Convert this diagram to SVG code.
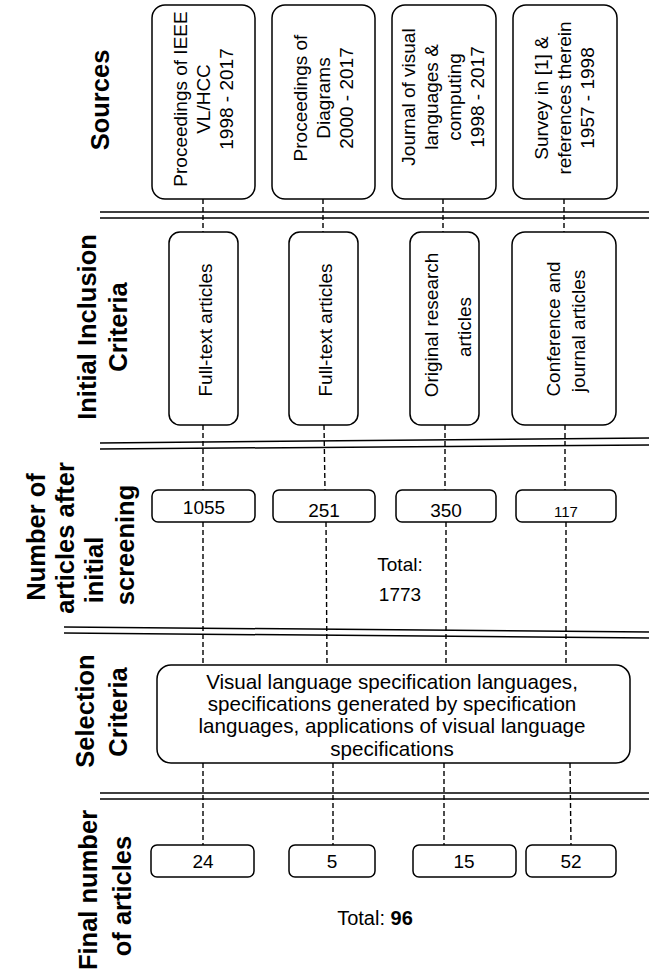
<svg xmlns="http://www.w3.org/2000/svg" width="649" height="975" viewBox="0 0 649 975">
<style>
.box{fill:#fff;stroke:#000;stroke-width:1.5}
.dl{stroke:#000;stroke-width:1.5;fill:none}
.dash{stroke:#000;stroke-width:1.4;stroke-dasharray:5 3;fill:none}
.lbl{font-family:"Liberation Sans",Arial,sans-serif;font-weight:bold;font-size:25.5px;text-anchor:middle;dominant-baseline:central;fill:#000}
.t{font-family:"Liberation Sans",Arial,sans-serif;font-size:19px;text-anchor:middle;dominant-baseline:central;fill:#000}
.s{font-family:"Liberation Sans",Arial,sans-serif;font-size:20.6px;text-anchor:middle;dominant-baseline:central;fill:#000}
</style>
<rect width="649" height="975" fill="#fff"/>
<g id="connectors">
<line class="dash" x1="203" y1="199" x2="203" y2="232"/>
<line class="dash" x1="323" y1="199" x2="323" y2="232"/>
<line class="dash" x1="443" y1="199" x2="443" y2="232"/>
<line class="dash" x1="564" y1="199" x2="564" y2="232"/>
<line class="dash" x1="203" y1="425" x2="203" y2="490"/>
<line class="dash" x1="324" y1="425" x2="325" y2="490"/>
<line class="dash" x1="445" y1="425" x2="445" y2="490"/>
<line class="dash" x1="565" y1="425" x2="565" y2="490"/>
<line class="dash" x1="203" y1="522" x2="203" y2="665"/>
<line class="dash" x1="326" y1="522" x2="327" y2="665"/>
<line class="dash" x1="446" y1="522" x2="446" y2="665"/>
<line class="dash" x1="566" y1="522" x2="566" y2="665"/>
<line class="dash" x1="203" y1="763" x2="203" y2="845"/>
<line class="dash" x1="333" y1="763" x2="333" y2="845"/>
<line class="dash" x1="444" y1="763" x2="444" y2="845"/>
<line class="dash" x1="570" y1="763" x2="571" y2="845"/>
</g>
<g id="separators">
<line class="dl" x1="100" y1="212" x2="649" y2="212"/>
<line class="dl" x1="100" y1="218" x2="649" y2="218"/>
<line class="dl" x1="100" y1="443" x2="649" y2="438"/>
<line class="dl" x1="100" y1="449" x2="649" y2="445"/>
<line class="dl" x1="64" y1="627" x2="649" y2="632"/>
<line class="dl" x1="64" y1="633" x2="649" y2="638"/>
<line class="dl" x1="100" y1="793" x2="649" y2="793"/>
<line class="dl" x1="100" y1="799" x2="649" y2="799"/>
</g>
<g id="row-labels">
<text class="lbl" transform="translate(100,100) rotate(-90)">Sources</text>
<text class="lbl" transform="translate(87,327) rotate(-90)">Initial Inclusion</text>
<text class="lbl" transform="translate(118,327) rotate(-90)">Criteria</text>
<text class="lbl" transform="translate(36,537) rotate(-90)">Number of</text>
<text class="lbl" transform="translate(65,538) rotate(-90)">articles after</text>
<text class="lbl" transform="translate(94,570) rotate(-90)">initial</text>
<text class="lbl" transform="translate(125,545) rotate(-90)">screening</text>
<text class="lbl" transform="translate(85,711) rotate(-90)">Selection</text>
<text class="lbl" transform="translate(118,712) rotate(-90)">Criteria</text>
<text class="lbl" transform="translate(88,890) rotate(-90)">Final number</text>
<text class="lbl" transform="translate(122,896) rotate(-90)">of articles</text>
</g>
<g id="src1">
<rect class="box" x="152" y="5" width="103" height="194" rx="13"/>
<text class="t" transform="translate(180,99) rotate(-90)">Proceedings of IEEE</text>
<text class="t" transform="translate(203,99) rotate(-90)">VL/HCC</text>
<text class="t" transform="translate(226,99) rotate(-90)">1998 - 2017</text>
</g>
<g id="src2">
<rect class="box" x="272" y="5" width="103" height="194" rx="13"/>
<text class="t" transform="translate(300,98) rotate(-90)">Proceedings of</text>
<text class="t" transform="translate(323,98) rotate(-90)">Diagrams</text>
<text class="t" transform="translate(346,98) rotate(-90)">2000 - 2017</text>
</g>
<g id="src3">
<rect class="box" x="392" y="5" width="104" height="194" rx="13"/>
<text class="t" transform="translate(408,97) rotate(-90)">Journal of visual</text>
<text class="t" transform="translate(431,97) rotate(-90)">languages &amp;</text>
<text class="t" transform="translate(454,97) rotate(-90)">computing</text>
<text class="t" transform="translate(477,97) rotate(-90)">1998 - 2017</text>
</g>
<g id="src4">
<rect class="box" x="513" y="5" width="104" height="194" rx="13"/>
<text class="t" transform="translate(541,98) rotate(-90)">Survey in [1] &amp;</text>
<text class="t" transform="translate(564,98) rotate(-90)">references therein</text>
<text class="t" transform="translate(587,98) rotate(-90)">1957 - 1998</text>
</g>
<g id="inc1">
<rect class="box" x="169" y="232" width="69" height="193" rx="11"/>
<text class="t" transform="translate(205,330) rotate(-90)">Full-text articles</text>
</g>
<g id="inc2">
<rect class="box" x="289" y="232" width="69" height="193" rx="11"/>
<text class="t" transform="translate(325,330) rotate(-90)">Full-text articles</text>
</g>
<g id="inc3">
<rect class="box" x="410" y="232" width="69" height="193" rx="11"/>
<text class="t" transform="translate(431,325) rotate(-90)">Original research</text>
<text class="t" transform="translate(464,327) rotate(-90)">articles</text>
</g>
<g id="inc4">
<rect class="box" x="512" y="232" width="104" height="193" rx="13"/>
<text class="t" transform="translate(553,329) rotate(-90)">Conference and</text>
<text class="t" transform="translate(578,331) rotate(-90)">journal articles</text>
</g>
<g id="n1">
<rect class="box" x="152" y="490" width="103" height="32" rx="6"/>
<text class="t" x="204" y="507">1055</text>
</g>
<g id="n2">
<rect class="box" x="273" y="490" width="102" height="32" rx="6"/>
<text class="t" x="324" y="510">251</text>
</g>
<g id="n3">
<rect class="box" x="396" y="490" width="100" height="32" rx="6"/>
<text class="t" x="446" y="510">350</text>
</g>
<g id="n4">
<rect class="box" x="516" y="490" width="100" height="32" rx="6"/>
<text class="t" x="566" y="511" style="font-size:15px">117</text>
</g>
<g id="total1">
<text class="t" x="400" y="564">Total:</text>
<text class="t" x="400" y="594">1773</text>
</g>
<g id="selection">
<rect class="box" x="157" y="665" width="473" height="98" rx="14"/>
<text class="s" x="392" y="681">Visual language specification languages,</text>
<text class="s" x="392" y="703">specifications generated by specification</text>
<text class="s" x="392" y="725.5">languages, applications of visual language</text>
<text class="s" x="392" y="748">specifications</text>
</g>
<g id="f1">
<rect class="box" x="151" y="845" width="103" height="32" rx="6"/>
<text class="t" x="203" y="861">24</text>
</g>
<g id="f2">
<rect class="box" x="289" y="845" width="86" height="32" rx="6"/>
<text class="t" x="332" y="861">5</text>
</g>
<g id="f3">
<rect class="box" x="413" y="845" width="103" height="32" rx="6"/>
<text class="t" x="464" y="861">15</text>
</g>
<g id="f4">
<rect class="box" x="526" y="845" width="90" height="32" rx="6"/>
<text class="t" x="571" y="861">52</text>
</g>
<g id="total2">
<text class="t" x="375" y="918" style="font-size:20px">Total: <tspan font-weight="bold">96</tspan></text>
</g>
</svg>
